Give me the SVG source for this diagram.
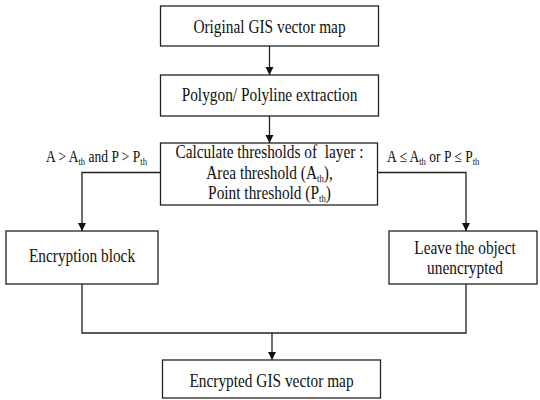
<svg xmlns="http://www.w3.org/2000/svg" width="540" height="400" viewBox="0 0 540 400">
<defs>
<style>
.box{fill:#fff;stroke:#222;stroke-width:1.3}
.ln{fill:none;stroke:#222;stroke-width:1.3}
.t{font-family:"Liberation Serif","Times New Roman",serif;font-size:18.5px;fill:#111;text-anchor:middle}
.l{font-family:"Liberation Serif","Times New Roman",serif;font-size:16.5px;fill:#111}
.s{font-size:10.5px}
</style>
<marker id="ah" viewBox="0 0 10 10" refX="10" refY="5" markerWidth="8" markerHeight="9" markerUnits="userSpaceOnUse" orient="auto">
<path d="M0,0 L10,5 L0,10 Z" fill="#111"/>
</marker>
</defs>
<rect width="540" height="400" fill="#fff"/>
<g id="connectors">
<line class="ln" x1="269.5" y1="46" x2="269.5" y2="75" marker-end="url(#ah)"/>
<line class="ln" x1="269.5" y1="116" x2="269.5" y2="143" marker-end="url(#ah)"/>
<polyline class="ln" points="160.5,172.5 82,172.5 82,231" marker-end="url(#ah)"/>
<polyline class="ln" points="377.5,172.5 466,172.5 466,231" marker-end="url(#ah)"/>
<polyline class="ln" points="82,284 82,333 466,333 466,284"/>
<line class="ln" x1="272" y1="333" x2="272" y2="360" marker-end="url(#ah)"/>
<text class="l" transform="translate(46,162) scale(0.82,1)">A &gt; A<tspan class="s" dy="3">th</tspan><tspan dy="-3"> and P &gt; P</tspan><tspan class="s" dy="3">th</tspan></text>
<text class="l" transform="translate(387,162) scale(0.82,1)">A ≤ A<tspan class="s" dy="3">th</tspan><tspan dy="-3"> or P ≤ P</tspan><tspan class="s" dy="3">th</tspan></text>
</g>
<g id="n1">
<rect class="box" x="160.5" y="6" width="218" height="40"/>
<text class="t" transform="translate(269.5,33) scale(0.83,1)">Original GIS vector map</text>
</g>
<g id="n2">
<rect class="box" x="160.5" y="75" width="218" height="41"/>
<text class="t" transform="translate(269.5,101) scale(0.83,1)">Polygon/ Polyline extraction</text>
</g>
<g id="n3">
<rect class="box" x="160.5" y="143" width="217" height="62"/>
<text class="t" transform="translate(269.5,158) scale(0.83,1)">Calculate thresholds of&#160; layer :</text>
<text class="t" transform="translate(269.5,179) scale(0.83,1)">Area threshold (A<tspan class="s" dy="3">th</tspan><tspan dy="-3">),</tspan></text>
<text class="t" transform="translate(269.5,199) scale(0.83,1)">Point threshold (P<tspan class="s" dy="3">th</tspan><tspan dy="-3">)</tspan></text>
</g>
<g id="n4">
<rect class="box" x="6" y="231" width="152" height="53"/>
<text class="t" transform="translate(82,262) scale(0.83,1)">Encryption block</text>
</g>
<g id="n5">
<rect class="box" x="389" y="231" width="148" height="53"/>
<text class="t" transform="translate(465,254) scale(0.83,1)">Leave the object</text>
<text class="t" transform="translate(465,274) scale(0.83,1)">unencrypted</text>
</g>
<g id="n6">
<rect class="box" x="162.5" y="360" width="218" height="38"/>
<text class="t" transform="translate(271.5,387) scale(0.83,1)">Encrypted GIS vector map</text>
</g>
</svg>
